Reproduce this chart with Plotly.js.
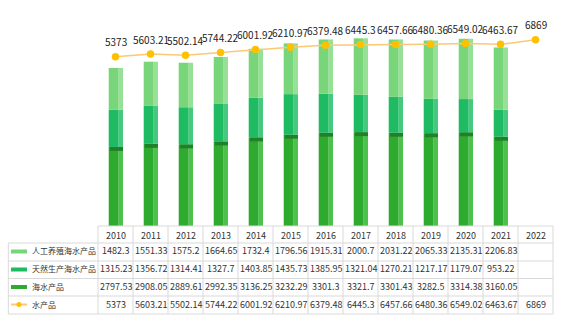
<!DOCTYPE html>
<html><head><meta charset="utf-8">
<script src="https://cdn.plot.ly/plotly-3.0.1.min.js"></script>
<style>html,body{margin:0;padding:0;background:#fff}#c{width:570px;height:327px}</style>
</head><body><div id="c"></div>
<script>
const years = ['2010','2011','2012','2013','2014','2015','2016','2017','2018','2019','2020','2021','2022'];
const seriesNames = ['人工养殖海水产品','天然生产海水产品','海水产品','水产品'];
const cultured = [1482.3,1551.33,1575.2,1664.65,1732.4,1796.56,1915.31,2000.7,2031.22,2065.33,2135.31,2206.83,null];
const wild = [1315.23,1356.72,1314.41,1327.7,1403.85,1435.73,1385.95,1321.04,1270.21,1217.17,1179.07,953.22,null];
const marine = [2797.53,2908.05,2889.61,2992.35,3136.25,3232.29,3301.3,3321.7,3301.43,3282.5,3314.38,3160.05,null];
const aquatic = [5373,5603.21,5502.14,5744.22,6001.92,6210.97,6379.48,6445.3,6457.66,6480.36,6549.02,6463.67,6869];

const W = 570, H = 327, L = 98, R = 17, PB = 226;
const plotW = W - L - R;
const px2x = p => (p - L) / plotW;
const py2y = p => (H - p) / H;

const baseMarine = marine.map(v => v == null ? null : 0);
const baseWild = marine.map(v => v);
const baseCult = marine.map((v, i) => v == null ? null : v + wild[i]);

const FW = 0.2857, FO = -0.194, SW = 0.123, SO = 0.0914;
function seg(y, base, front, side) {
  return [
    {type:'bar', x:years, y:y, base:base, width:FW, offset:FO, marker:{color:front, line:{width:0}}, hoverinfo:'skip'},
    {type:'bar', x:years, y:y, base:base, width:SW, offset:SO, marker:{color:side, line:{width:0}}, hoverinfo:'skip'}
  ];
}
const topH = 140;
const traces = [].concat(
  seg(marine, baseMarine, '#2eaa2e', '#4cc24c'),
  [{type:'bar', x:years, y:marine.map(v => v == null ? null : topH), base:marine.map(v => v == null ? null : v - topH),
    width:FW+SW-0.03, offset:FO+0.03, marker:{color:'#23802a', line:{width:0}}, hoverinfo:'skip'}],
  seg(wild, baseWild, '#1fbb63', '#45c97f'),
  seg(cultured, baseCult, '#79d579', '#96e196'),
  [{type:'scatter', mode:'lines+markers', x:years, y:aquatic, yaxis:'y2',
    line:{color:'#fcc878', width:1.5}, marker:{color:'#ffc000', size:7.5}, cliponaxis:false, hoverinfo:'skip'}]
);

const grid = '#d9d9d9';
const shapes = [];
const rowLines = [226, 243, 261, 278.5, 296, 314];
rowLines.forEach((y, k) => {
  shapes.push({type:'line', xref:'paper', yref:'paper', x0:px2x(k === 0 ? L : 8.3), x1:px2x(W - R), y0:py2y(y), y1:py2y(y), line:{color:grid, width:1}});
});
shapes.push({type:'line', xref:'paper', yref:'paper', x0:px2x(8.3), x1:px2x(8.3), y0:py2y(243), y1:py2y(314), line:{color:grid, width:1}});
for (let i = 0; i <= years.length; i++) {
  const x = L + i * plotW / years.length;
  shapes.push({type:'line', xref:'paper', yref:'paper', x0:px2x(x), x1:px2x(x), y0:py2y(226), y1:py2y(314), line:{color:grid, width:1}});
}
const keyColors = ['#79d579', '#1fbb63', '#2eaa2e'];
const rowCenters = [251.5, 269.5, 287, 304.5];
keyColors.forEach((c, k) => {
  shapes.push({type:'rect', xref:'paper', yref:'paper', x0:px2x(11), x1:px2x(27), y0:py2y(rowCenters[k] - 2), y1:py2y(rowCenters[k] + 2), fillcolor:c, line:{width:0}});
});
shapes.push({type:'line', xref:'paper', yref:'paper', x0:px2x(11), x1:px2x(27), y0:py2y(rowCenters[3]), y1:py2y(rowCenters[3]), line:{color:'#fcc878', width:2}});
shapes.push({type:'circle', xref:'paper', yref:'paper', x0:px2x(16.5), x1:px2x(21.5), y0:py2y(rowCenters[3] - 2.5), y1:py2y(rowCenters[3] + 2.5), fillcolor:'#ffc000', line:{width:0}});

const font = 'Noto Sans CJK SC, Noto Sans, sans-serif';
const colX = i => px2x(L + (i + 0.5) * plotW / years.length);
const annotations = [];
const textCenters = [235, 250.7, 268.7, 286.3, 304];
years.forEach((yr, i) => annotations.push({xref:'paper', yref:'paper', x:colX(i), y:py2y(textCenters[0]), text:yr, showarrow:false, xanchor:'center', yanchor:'middle', font:{family:font, size:9, color:'#333'}}));
const rows = [cultured, wild, marine, aquatic];
rows.forEach((arr, r) => {
  annotations.push({xref:'paper', yref:'paper', x:px2x(30), y:py2y(textCenters[r + 1]), text:seriesNames[r], showarrow:false, xanchor:'left', yanchor:'middle', font:{family:font, size:8, color:'#333'}});
  arr.forEach((v, i) => {
    if (v == null) return;
    annotations.push({xref:'paper', yref:'paper', x:colX(i), y:py2y(textCenters[r + 1]), text:String(v), showarrow:false, xanchor:'center', yanchor:'middle', font:{family:font, size:9, color:'#333'}});
  });
});
aquatic.forEach((v, i) => {
  annotations.push({xref:'paper', yref:'y2', x:colX(i), y:v, yshift:15, text:String(v), showarrow:false, xanchor:'center', yanchor:'middle', font:{family:font, size:10, color:'#222'}});
});

const layout = {
  width:W, height:H, margin:{l:L, r:R, t:0, b:0, pad:0},
  paper_bgcolor:'#fff', plot_bgcolor:'rgba(0,0,0,0)',
  barmode:'overlay', showlegend:false,
  xaxis:{type:'category', range:[-0.5, 12.5], showticklabels:false, showgrid:false, zeroline:false, showline:false, ticks:'', fixedrange:true},
  yaxis:{domain:[py2y(PB), 1], range:[0, 8000], showticklabels:false, showgrid:false, zeroline:false, showline:false, ticks:''},
  yaxis2:{overlaying:'y', range:[-9570, 10380], showticklabels:false, showgrid:false, zeroline:false, showline:false, ticks:''},
  shapes:shapes, annotations:annotations
};
Plotly.newPlot('c', traces, layout, {staticPlot:true, displayModeBar:false});
</script></body></html>
